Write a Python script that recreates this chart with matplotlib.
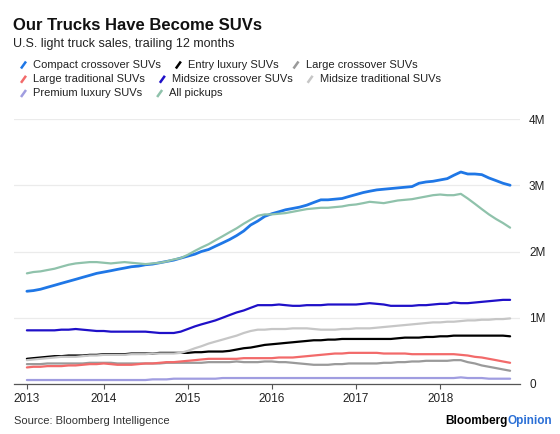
import pandas as pd
import matplotlib
matplotlib.use('Agg')
import matplotlib.pyplot as plt
from matplotlib.lines import Line2D

plt.rcParams['font.family'] = ['Liberation Sans', 'DejaVu Sans']

W, H = 560, 434

# trailing 12-month sales, millions of units, monthly Feb 2013 - Nov 2018
months = pd.date_range('2013-02-01', '2018-11-01', freq='MS')

compact_crossover = [1.40, 1.41, 1.43, 1.46, 1.49, 1.52, 1.55, 1.58, 1.61, 1.64, 1.67,
                     1.69, 1.71, 1.73, 1.75, 1.77, 1.78, 1.80, 1.81, 1.83, 1.85, 1.87, 1.90,
                     1.93, 1.96, 2.00, 2.03, 2.08, 2.13, 2.18, 2.24, 2.31, 2.40, 2.46, 2.53,
                     2.57, 2.60, 2.63, 2.65, 2.67, 2.70, 2.74, 2.78, 2.78, 2.79, 2.80, 2.83,
                     2.86, 2.89, 2.91, 2.93, 2.94, 2.95, 2.96, 2.97, 2.98, 3.03, 3.05, 3.06,
                     3.08, 3.10, 3.15, 3.20, 3.17, 3.17, 3.16, 3.11, 3.07, 3.03, 3.00]
entry_luxury = [0.38, 0.39, 0.40, 0.41, 0.42, 0.42, 0.43, 0.43, 0.43, 0.44, 0.44,
                0.45, 0.45, 0.45, 0.45, 0.46, 0.46, 0.46, 0.46, 0.47, 0.47, 0.47, 0.47,
                0.47, 0.48, 0.48, 0.49, 0.49, 0.49, 0.50, 0.52, 0.54, 0.55, 0.57, 0.59,
                0.60, 0.61, 0.62, 0.63, 0.64, 0.65, 0.66, 0.66, 0.67, 0.67, 0.68, 0.68,
                0.68, 0.68, 0.68, 0.68, 0.68, 0.68, 0.69, 0.70, 0.70, 0.70, 0.71, 0.71,
                0.72, 0.72, 0.73, 0.73, 0.73, 0.73, 0.73, 0.73, 0.73, 0.73, 0.72]
large_crossover = [0.30, 0.30, 0.30, 0.31, 0.31, 0.31, 0.31, 0.31, 0.31, 0.32, 0.32,
                   0.32, 0.32, 0.31, 0.31, 0.31, 0.31, 0.31, 0.31, 0.31, 0.32, 0.32, 0.32,
                   0.32, 0.32, 0.32, 0.33, 0.33, 0.33, 0.33, 0.34, 0.33, 0.33, 0.33, 0.34,
                   0.34, 0.33, 0.33, 0.32, 0.31, 0.30, 0.29, 0.29, 0.29, 0.30, 0.30, 0.31,
                   0.31, 0.31, 0.31, 0.31, 0.32, 0.32, 0.33, 0.33, 0.34, 0.34, 0.35, 0.35,
                   0.35, 0.35, 0.36, 0.36, 0.33, 0.31, 0.28, 0.26, 0.24, 0.22, 0.20]
large_traditional = [0.25, 0.26, 0.26, 0.27, 0.27, 0.27, 0.28, 0.28, 0.29, 0.30, 0.30,
                     0.31, 0.30, 0.29, 0.29, 0.29, 0.30, 0.31, 0.31, 0.32, 0.33, 0.33, 0.34,
                     0.35, 0.36, 0.37, 0.38, 0.38, 0.38, 0.38, 0.38, 0.39, 0.39, 0.39, 0.39,
                     0.39, 0.40, 0.40, 0.40, 0.41, 0.42, 0.43, 0.44, 0.45, 0.46, 0.46, 0.47,
                     0.47, 0.47, 0.47, 0.47, 0.46, 0.46, 0.46, 0.46, 0.45, 0.45, 0.45, 0.45,
                     0.45, 0.45, 0.45, 0.44, 0.43, 0.41, 0.40, 0.38, 0.36, 0.34, 0.32]
midsize_crossover = [0.81, 0.81, 0.81, 0.81, 0.81, 0.82, 0.82, 0.83, 0.82, 0.81, 0.80,
                     0.80, 0.79, 0.79, 0.79, 0.79, 0.79, 0.79, 0.78, 0.77, 0.77, 0.77, 0.79,
                     0.83, 0.87, 0.90, 0.93, 0.96, 1.00, 1.04, 1.08, 1.11, 1.15, 1.19, 1.19,
                     1.19, 1.20, 1.19, 1.18, 1.18, 1.19, 1.19, 1.19, 1.20, 1.20, 1.20, 1.20,
                     1.20, 1.21, 1.22, 1.21, 1.20, 1.18, 1.18, 1.18, 1.18, 1.19, 1.19, 1.20,
                     1.21, 1.21, 1.23, 1.22, 1.22, 1.23, 1.24, 1.25, 1.26, 1.27, 1.27]
midsize_traditional = [0.36, 0.37, 0.38, 0.39, 0.40, 0.41, 0.41, 0.41, 0.42, 0.43, 0.43,
                       0.44, 0.44, 0.44, 0.44, 0.45, 0.45, 0.45, 0.46, 0.46, 0.46, 0.46, 0.47,
                       0.50, 0.54, 0.57, 0.61, 0.64, 0.67, 0.70, 0.73, 0.77, 0.80, 0.82, 0.82,
                       0.83, 0.83, 0.83, 0.84, 0.84, 0.84, 0.83, 0.82, 0.82, 0.82, 0.83, 0.83,
                       0.84, 0.84, 0.84, 0.85, 0.86, 0.87, 0.88, 0.89, 0.90, 0.91, 0.92, 0.93,
                       0.93, 0.94, 0.94, 0.95, 0.96, 0.96, 0.97, 0.97, 0.98, 0.98, 0.99]
premium_luxury = [0.06, 0.06, 0.06, 0.06, 0.06, 0.06, 0.06, 0.06, 0.06, 0.06, 0.06,
                  0.06, 0.06, 0.06, 0.06, 0.06, 0.06, 0.06, 0.07, 0.07, 0.07, 0.08, 0.08,
                  0.08, 0.08, 0.08, 0.08, 0.08, 0.09, 0.09, 0.09, 0.09, 0.09, 0.09, 0.09,
                  0.09, 0.09, 0.09, 0.09, 0.09, 0.09, 0.09, 0.09, 0.09, 0.09, 0.09, 0.09,
                  0.09, 0.09, 0.09, 0.09, 0.09, 0.09, 0.09, 0.09, 0.09, 0.09, 0.09, 0.09,
                  0.09, 0.09, 0.09, 0.10, 0.09, 0.09, 0.09, 0.08, 0.08, 0.08, 0.08]
all_pickups = [1.67, 1.69, 1.70, 1.72, 1.74, 1.77, 1.80, 1.82, 1.83, 1.84, 1.84,
               1.83, 1.82, 1.83, 1.84, 1.83, 1.82, 1.81, 1.82, 1.83, 1.85, 1.88, 1.90,
               1.95, 2.01, 2.06, 2.11, 2.17, 2.23, 2.29, 2.35, 2.42, 2.48, 2.54, 2.56,
               2.56, 2.57, 2.58, 2.60, 2.62, 2.64, 2.65, 2.66, 2.66, 2.67, 2.68, 2.70,
               2.71, 2.73, 2.75, 2.74, 2.73, 2.75, 2.77, 2.78, 2.79, 2.81, 2.83, 2.85,
               2.86, 2.85, 2.85, 2.87, 2.80, 2.72, 2.64, 2.56, 2.49, 2.43, 2.36]

labels = ['Compact crossover SUVs', 'Entry luxury SUVs', 'Large crossover SUVs',
          'Large traditional SUVs', 'Midsize crossover SUVs', 'Midsize traditional SUVs',
          'Premium luxury SUVs', 'All pickups']
series = [compact_crossover, entry_luxury, large_crossover, large_traditional,
          midsize_crossover, midsize_traditional, premium_luxury, all_pickups]
colors = ['#1f77e6', '#000000', '#9a9a9a', '#f26a6a', '#1f10c8', '#c6c6c6', '#a09de0', '#8fc2ab']
widths = [2.0, 1.6, 1.6, 1.6, 1.6, 1.6, 1.6, 1.6]

year_ticks = pd.to_datetime(['2013-02-01', '2014-01-01', '2015-01-01', '2016-01-01',
                             '2017-01-01', '2018-01-01'])
year_labels = ['2013', '2014', '2015', '2016', '2017', '2018']
y_ticks = [0, 1, 2, 3, 4]
y_labels = ['0', '1M', '2M', '3M', '4M']


def fx(x):
    return x / W


def fy(y):
    return 1 - y / H


fig = plt.figure(figsize=(W / 100, H / 100), dpi=100)
ax = fig.add_axes([fx(14), fy(384), (520 - 14) / W, (384 - 119) / H])

for vals, c, lw in zip(series, colors, widths):
    ax.plot(months, vals, color=c, lw=lw, solid_joinstyle='round', solid_capstyle='round')

ax.set_xlim(pd.Timestamp('2012-12-07'), pd.Timestamp('2018-12-14'))
ax.set_ylim(0, 4)
ax.set_xticks(year_ticks)
ax.set_xticklabels(year_labels)
ax.set_yticks(y_ticks)
ax.set_yticklabels(y_labels)
ax.yaxis.tick_right()
ax.tick_params(axis='y', length=0, pad=6.5, labelsize=8.5, labelcolor='#222222')
ax.tick_params(axis='x', length=3.5, width=0.8, color='#555555', pad=3,
               labelsize=8.5, labelcolor='#222222')
for lab in ax.get_yticklabels():
    lab.set_horizontalalignment('left')
ax.grid(axis='y', color='#ebebeb', lw=0.9)
ax.set_axisbelow(True)
for s in ['top', 'left', 'right']:
    ax.spines[s].set_visible(False)
ax.spines['bottom'].set_color('#555555')
ax.spines['bottom'].set_linewidth(0.9)

fig.text(fx(13), fy(29.5), 'Our Trucks Have Become SUVs', fontsize=12,
         fontweight='bold', va='baseline', color='#111111')
fig.text(fx(13), fy(46.5), 'U.S. light truck sales, trailing 12 months', fontsize=9,
         va='baseline', color='#222222')

# flowing legend with slash markers
renderer = fig.canvas.get_renderer()
rows = [[0, 1, 2], [3, 4, 5], [6, 7]]
row_y = [65, 79.3, 93.5]
for row, yy in zip(rows, row_y):
    x = 21
    for k in row:
        fig.add_artist(Line2D([fx(x), fx(x + 5)], [fy(yy + 3.5), fy(yy - 3.5)],
                              color=colors[k], lw=1.8, solid_capstyle='butt'))
        t = fig.text(fx(x + 12), fy(yy), labels[k], fontsize=8, va='center',
                     color='#222222')
        bb = t.get_window_extent(renderer)
        x = bb.x1 + 15

fig.text(fx(13.5), fy(421), 'Source: Bloomberg Intelligence', fontsize=8,
         va='center', color='#333333')
op = fig.text(fx(552), fy(421), 'Opinion', fontsize=8.5, fontweight='bold',
              ha='right', va='center', color='#2a6fd6')
ob = op.get_window_extent(renderer)
fig.text(ob.x0 / W, fy(421), 'Bloomberg', fontsize=8.5, fontweight='bold',
         ha='right', va='center', color='#000000')

fig.savefig('out.png', dpi=100)
